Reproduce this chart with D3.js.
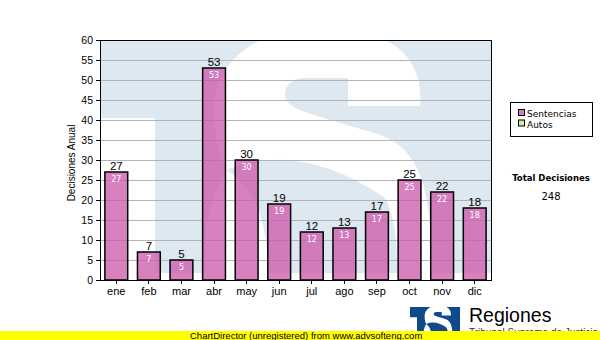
<!DOCTYPE html>
<html><head><meta charset="utf-8">
<script src="https://cdn.jsdelivr.net/npm/d3@7"></script>
<style>body{margin:0;background:#fff}svg{display:block}</style>
</head><body>
<svg id="c" width="600" height="340"></svg>
<script>
const months = ["ene","feb","mar","abr","may","jun","jul","ago","sep","oct","nov","dic"];
const sentencias = [27,7,5,53,30,19,12,13,17,25,22,18];
const yTicks = [0,5,10,15,20,25,30,35,40,45,50,55,60];
const legendItems = ["Sentencias","Autos"];
const legendColors = ["#dc7cc0","#d4ea9c"];
const yTitle = "Decisiones Anual";
const totalTitle = "Total Decisiones";
const totalValue = d3.sum(sentencias);
const footerText = "ChartDirector (unregistered) from www.advsofteng.com";
const logoTitle = "Regiones";
const logoSub = "Tribunal Supremo de Justicia";

const svg = d3.select("#c");
const L = 100, R = 491, T = 40, B = 280;
const x = d3.scaleBand().domain(months).range([L, R]).paddingInner(0.3).paddingOuter(0.15);
const y = d3.scaleLinear().domain([0, 60]).range([B, T]);

// logo geometry (in watermark coordinates, plot-space 100..491 x 40..280)
function drawLogo(g, blockColor, bgColor) {
  g.append("path").attr("fill", blockColor)
    .attr("d", "M100,40 L491,40 L491,273 L155,273 L155,118 L100,118 Z");
  // white S
  g.append("path").attr("fill", bgColor)
    .attr("d", "M348,106 L420,106 C424,60 395,30 330,28 C255,26 212,62 214,115 C215,145 222,160 226,170 C215,190 206,215 205,240 L205,290 L432,290 L431,235 C428,200 424,185 420,175 C412,155 400,142 380,135 C360,128 330,121 300,110 C290,106 284,100 285,92 C286,84 295,78 305,78 L348,78 Z");
  // lower counter
  g.append("path").attr("fill", blockColor)
    .attr("d", "M226,170 Q300,140 385,198 Q398,222 397,273 L268,273 Q268,195 226,170 Z");
}

// watermark
const defs = svg.append("defs");
defs.append("clipPath").attr("id", "plotclip").append("rect")
  .attr("x", L).attr("y", T).attr("width", R - L).attr("height", B - T);
svg.append("rect").attr("x", L).attr("y", T).attr("width", R - L).attr("height", B - T).attr("fill", "#fff");
const wm = svg.append("g").attr("clip-path", "url(#plotclip)");
drawLogo(wm, "#dde8f1", "#ffffff");

// gridlines
svg.append("g").selectAll("line").data(yTicks.filter(d => d > 0 && d < 60)).join("line")
  .attr("x1", L).attr("x2", R).attr("y1", d => y(d)).attr("y2", d => y(d))
  .attr("stroke", "#b4b4b4").attr("stroke-width", 1).attr("shape-rendering", "crispEdges");

// bars
svg.append("g").selectAll("rect").data(months).join("rect")
  .attr("x", d => x(d)).attr("width", x.bandwidth())
  .attr("y", (d, i) => y(sentencias[i])).attr("height", (d, i) => B - y(sentencias[i]))
  .attr("fill", "rgb(204,85,170)").attr("fill-opacity", 0.75)
  .attr("stroke", "#000").attr("stroke-width", 1.5);

// value labels
svg.append("g").selectAll("text").data(months).join("text")
  .attr("x", d => x(d) + x.bandwidth() / 2).attr("y", (d, i) => y(sentencias[i]) - 2.5)
  .attr("text-anchor", "middle").attr("font-family", "Liberation Sans, Arial, sans-serif")
  .attr("font-size", 11.5).attr("fill", "#000").text((d, i) => sentencias[i]);
svg.append("g").selectAll("text").data(months).join("text")
  .attr("x", d => x(d) + x.bandwidth() / 2).attr("y", (d, i) => y(sentencias[i]) + 10)
  .attr("text-anchor", "middle").attr("font-family", "DejaVu Sans, Verdana, sans-serif")
  .attr("font-size", 8).attr("fill", "#fff").text((d, i) => sentencias[i]);

// plot border
svg.append("rect").attr("x", L).attr("y", T).attr("width", R - L).attr("height", B - T)
  .attr("fill", "none").attr("stroke", "#000").attr("stroke-width", 1).attr("shape-rendering", "crispEdges");

// axes
const ya = svg.append("g").attr("transform", `translate(${L},0)`)
  .call(d3.axisLeft(y).tickValues(yTicks).tickSize(4).tickPadding(3));
ya.select(".domain").remove();
ya.selectAll("text").attr("font-family", "Liberation Sans, Arial, sans-serif").attr("font-size", 10.5).attr("fill", "#000");
ya.selectAll("line").attr("stroke", "#000").attr("shape-rendering", "crispEdges");

const xa = svg.append("g").attr("transform", `translate(0,${B})`)
  .call(d3.axisBottom(x).tickSize(4).tickPadding(3));
xa.select(".domain").remove();
xa.selectAll("text").attr("font-family", "Liberation Sans, Arial, sans-serif").attr("font-size", 11).attr("fill", "#000");
xa.selectAll("line").attr("stroke", "#000").attr("shape-rendering", "crispEdges");

svg.append("text").attr("transform", "translate(75,163) rotate(-90)")
  .attr("text-anchor", "middle").attr("font-family", "Liberation Sans, Arial, sans-serif")
  .attr("font-size", 10).attr("fill", "#000").text(yTitle);

// legend
const lg = svg.append("g");
lg.append("rect").attr("x", 510.5).attr("y", 102.5).attr("width", 82).attr("height", 34)
  .attr("fill", "#fff").attr("stroke", "#000").attr("stroke-width", 1);
legendItems.forEach((t, i) => {
  lg.append("rect").attr("x", 518.5).attr("y", 109.5 + i * 10.5).attr("width", 6).attr("height", 6)
    .attr("fill", legendColors[i]).attr("stroke", "#000").attr("stroke-width", 1);
  lg.append("text").attr("x", 527).attr("y", 117 + i * 10.5)
    .attr("font-family", "DejaVu Sans, Verdana, sans-serif").attr("font-size", 9)
    .attr("fill", "#000").text(t);
});

svg.append("text").attr("x", 551).attr("y", 181).attr("text-anchor", "middle")
  .attr("font-family", "DejaVu Sans, Verdana, sans-serif").attr("font-size", 8.5).attr("font-weight", "bold")
  .attr("fill", "#000").text(totalTitle);
svg.append("text").attr("x", 551).attr("y", 200).attr("text-anchor", "middle")
  .attr("font-family", "DejaVu Sans, Verdana, sans-serif").attr("font-size", 10)
  .attr("fill", "#000").text(totalValue);

// bottom logo
const lgo = svg.append("g").attr("transform", "translate(410,307) scale(0.128,0.13) translate(-100,-40)");
drawLogo(lgo, "#0f4a8e", "#ffffff");
svg.append("text").attr("x", 469).attr("y", 322)
  .attr("font-family", "Liberation Sans, Arial, sans-serif").attr("font-size", 19.5)
  .attr("fill", "#000").text(logoTitle);
svg.append("text").attr("x", 469).attr("y", 336)
  .attr("font-family", "Liberation Sans, Arial, sans-serif").attr("font-size", 10)
  .attr("fill", "#333").text(logoSub);

// footer
svg.append("rect").attr("x", 0).attr("y", 331).attr("width", 600).attr("height", 9).attr("fill", "#ffff00");
svg.append("text").attr("x", 190).attr("y", 338.5)
  .attr("font-family", "Liberation Sans, Arial, sans-serif").attr("font-size", 9.5)
  .attr("fill", "#000").text(footerText);
</script>
</body></html>
